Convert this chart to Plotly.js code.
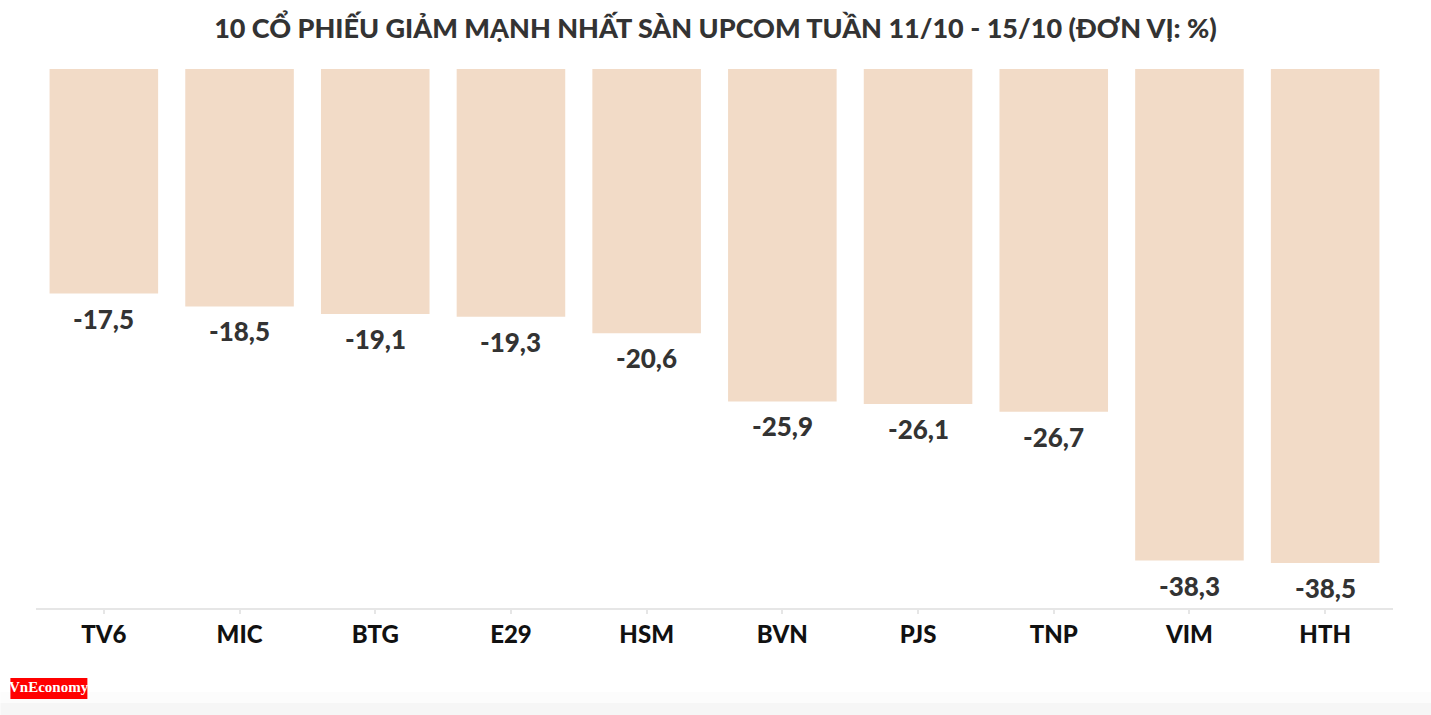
<!DOCTYPE html>
<html><head><meta charset="utf-8">
<script src="https://cdn.plot.ly/plotly-3.0.1.min.js"></script>
<style>body{margin:0;background:#fff}#c{width:1431px;height:715px}</style>
</head><body><div id="c"></div>
<script>
const categories = ["TV6","MIC","BTG","E29","HSM","BVN","PJS","TNP","VIM","HTH"];
const values = [-17.5,-18.5,-19.1,-19.3,-20.6,-25.9,-26.1,-26.7,-38.3,-38.5];
const valueLabels = values.map(v => String(v).replace('.', ','));
const titleText = "10 CỔ PHIẾU GIẢM MẠNH NHẤT SÀN UPCOM TUẦN 11/10 - 15/10 (ĐƠN VỊ: %)";
const FONT = "Lato, 'Open Sans', sans-serif";

const annotations = categories.map((c,i)=>({
  x:c, y:values[i], xref:'x', yref:'y', text:valueLabels[i],
  showarrow:false, yanchor:'top', yshift:-7,
  font:{family:FONT,size:26,color:'#333333',weight:900}
}));
annotations.push({
  xref:'paper', yref:'paper', x:(48.5-35.6)/1357.4, y:(608-687.5)/539.5,
  xanchor:'center', yanchor:'middle', showarrow:false,
  text:'<b>VnEconomy</b>', font:{family:"'Liberation Serif', serif", size:15, color:'#ffffff'}
});

Plotly.newPlot('c',[{
  type:'bar', x:categories, y:values,
  marker:{color:'#f2dbc7'}, hoverinfo:'skip'
}],{
  width:1431, height:715,
  margin:{l:35.6,r:38,t:68.5,b:107},
  paper_bgcolor:'#ffffff', plot_bgcolor:'#ffffff',
  bargap:0.2, showlegend:false,
  title:{text:titleText, x:0.5, xanchor:'center', y:1-29/715, yanchor:'middle',
    font:{family:FONT,size:27,color:'#333333',weight:900}},
  xaxis:{type:'category', showgrid:false, zeroline:false, showline:true, linecolor:'#e6e6e6', linewidth:2,
    ticks:'outside', ticklen:4, tickcolor:'#e6e6e6', tickwidth:2,
    tickfont:{family:FONT,size:24,color:'#111111',weight:900}, fixedrange:true},
  yaxis:{range:[-42,0], visible:false, fixedrange:true},
  shapes:[
    {type:'rect', xref:'paper', yref:'paper', layer:'below', x0:-35.6/1357.4, x1:1+38/1357.4,
     y0:(608-703)/539.5, y1:(608-692)/539.5, fillcolor:'#fcfcfc', line:{width:0}},
    {type:'rect', xref:'paper', yref:'paper', layer:'below', x0:-35.6/1357.4, x1:1+38/1357.4,
     y0:(608-715)/539.5, y1:(608-703)/539.5, fillcolor:'#f6f6f6', line:{width:0}},
    {type:'rect', xref:'paper', yref:'paper', x0:(10-35.6)/1357.4, x1:(87-35.6)/1357.4,
     y0:(608-699)/539.5, y1:(608-678)/539.5, fillcolor:'#ff0000', line:{width:0}}
  ],
  annotations:annotations
},{displayModeBar:false, staticPlot:true});
</script></body></html>
